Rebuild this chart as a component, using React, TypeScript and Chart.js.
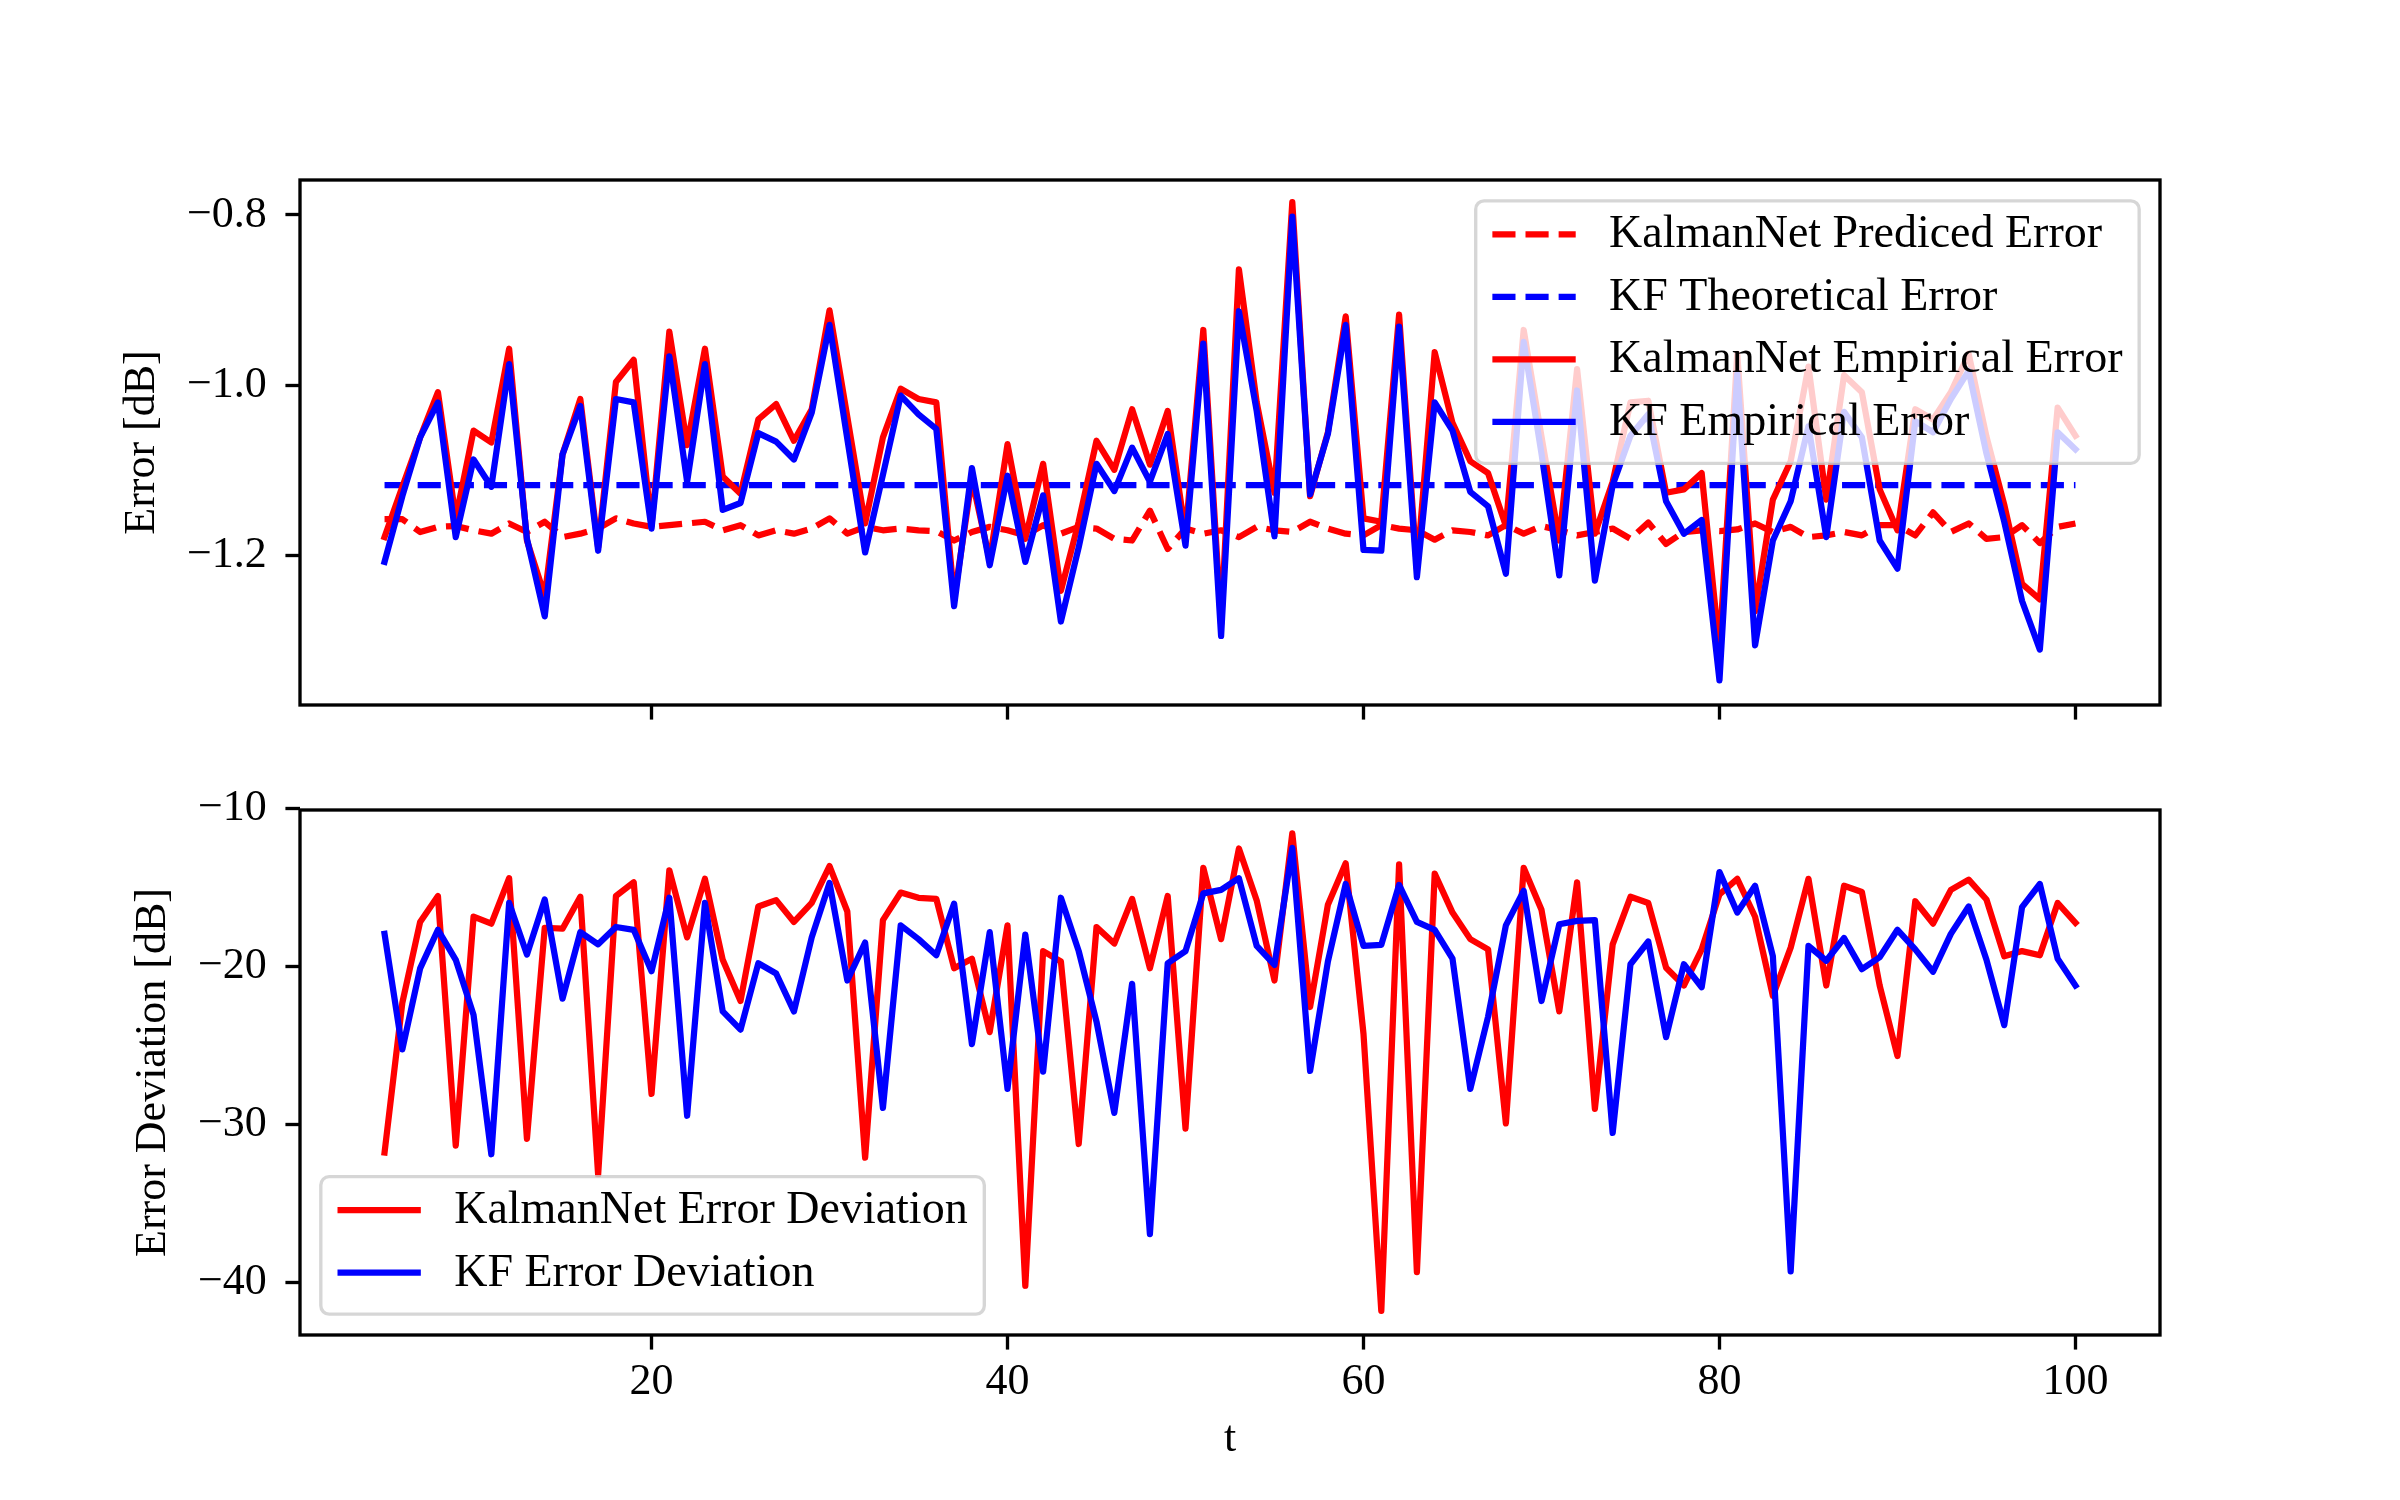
import React, { useEffect, useRef } from 'react';
import { Chart, registerables } from 'chart.js';

Chart.register(...registerables);

// ---------- data ----------
const T = [
  5, 6, 7, 8, 9, 10, 11, 12, 13, 14, 15, 16, 17, 18, 19, 20, 21, 22, 23, 24,
  25, 26, 27, 28, 29, 30, 31, 32, 33, 34, 35, 36, 37, 38, 39, 40, 41, 42, 43, 44,
  45, 46, 47, 48, 49, 50, 51, 52, 53, 54, 55, 56, 57, 58, 59, 60, 61, 62, 63, 64,
  65, 66, 67, 68, 69, 70, 71, 72, 73, 74, 75, 76, 77, 78, 79, 80, 81, 82, 83, 84,
  85, 86, 87, 88, 89, 90, 91, 92, 93, 94, 95, 96, 97, 98, 99, 100,
];

const KALMANNET_PREDICTED_DB = [
  -1.157, -1.157, -1.172, -1.166, -1.165, -1.170, -1.174, -1.162, -1.172, -1.160,
  -1.178, -1.174, -1.168, -1.156, -1.162, -1.166, -1.164, -1.162, -1.160, -1.170,
  -1.164, -1.176, -1.170, -1.174, -1.168, -1.156, -1.174, -1.166, -1.170, -1.168,
  -1.170, -1.171, -1.182, -1.172, -1.166, -1.170, -1.176, -1.164, -1.174, -1.166,
  -1.168, -1.180, -1.182, -1.147, -1.192, -1.168, -1.174, -1.170, -1.178, -1.166,
  -1.170, -1.172, -1.160, -1.168, -1.174, -1.176, -1.164, -1.168, -1.170, -1.181,
  -1.170, -1.172, -1.176, -1.164, -1.174, -1.165, -1.170, -1.176, -1.172, -1.168,
  -1.180, -1.161, -1.186, -1.172, -1.170, -1.171, -1.169, -1.162, -1.172, -1.166,
  -1.178, -1.176, -1.172, -1.176, -1.164, -1.164, -1.176, -1.149, -1.172, -1.162,
  -1.180, -1.178, -1.164, -1.185, -1.166, -1.162,
];

const KF_THEORETICAL_DB = -1.117;

const KALMANNET_EMPIRICAL_DB = [
  -1.178, -1.119, -1.061, -1.008, -1.156, -1.053, -1.067, -0.957, -1.182, -1.247,
  -1.081, -1.016, -1.190, -0.996, -0.970, -1.165, -0.937, -1.070, -0.957, -1.107,
  -1.127, -1.040, -1.022, -1.065, -1.028, -0.912, -1.037, -1.162, -1.061, -1.004,
  -1.016, -1.020, -1.250, -1.110, -1.205, -1.069, -1.180, -1.092, -1.241, -1.160,
  -1.065, -1.099, -1.028, -1.093, -1.030, -1.175, -0.935, -1.280, -0.864, -1.020,
  -1.126, -0.785, -1.130, -1.055, -0.919, -1.156, -1.160, -0.917, -1.215, -0.961,
  -1.044, -1.089, -1.103, -1.165, -0.935, -1.060, -1.182, -0.981, -1.174, -1.113,
  -1.020, -1.018, -1.126, -1.122, -1.103, -1.310, -0.963, -1.265, -1.134, -1.089,
  -0.978, -1.134, -0.988, -1.008, -1.122, -1.170, -1.028, -1.040, -1.008, -0.963,
  -1.060, -1.140, -1.233, -1.251, -1.026, -1.059,
];

const KF_EMPIRICAL_DB = [
  -1.207, -1.130, -1.061, -1.020, -1.178, -1.087, -1.119, -0.975, -1.180, -1.271,
  -1.081, -1.024, -1.194, -1.016, -1.020, -1.168, -0.966, -1.113, -0.975, -1.146,
  -1.138, -1.056, -1.066, -1.087, -1.032, -0.929, -1.063, -1.196, -1.105, -1.012,
  -1.034, -1.051, -1.259, -1.097, -1.211, -1.106, -1.207, -1.129, -1.277, -1.190,
  -1.092, -1.124, -1.073, -1.113, -1.057, -1.188, -0.951, -1.294, -0.913, -1.030,
  -1.177, -0.802, -1.128, -1.057, -0.929, -1.193, -1.194, -0.931, -1.225, -1.020,
  -1.053, -1.125, -1.142, -1.221, -0.949, -1.080, -1.223, -1.006, -1.229, -1.117,
  -1.059, -1.034, -1.136, -1.174, -1.158, -1.346, -0.987, -1.305, -1.182, -1.136,
  -1.048, -1.178, -1.031, -1.061, -1.182, -1.215, -1.042, -1.055, -1.016, -0.983,
  -1.080, -1.160, -1.253, -1.310, -1.055, -1.075,
];

const KALMANNET_DEVIATION_DB = [
  -31.79, -22.30, -17.18, -15.54, -31.35, -16.85, -17.29, -14.41, -30.92, -17.55,
  -17.61, -15.59, -33.20, -15.54, -14.67, -28.08, -13.91, -18.16, -14.45, -19.58,
  -22.19, -16.20, -15.80, -17.18, -15.98, -13.64, -16.52, -32.12, -17.07, -15.32,
  -15.65, -15.72, -20.12, -19.51, -24.16, -17.40, -40.23, -19.03, -19.69, -31.25,
  -17.51, -18.55, -15.72, -20.12, -15.54, -30.27, -13.75, -18.27, -12.53, -15.82,
  -20.89, -11.57, -22.57, -16.09, -13.47, -24.27, -41.82, -13.54, -39.36, -14.12,
  -16.59, -18.27, -18.92, -29.94, -13.75, -16.41, -22.85, -14.67, -29.02, -18.60,
  -15.59, -15.98, -20.08, -21.21, -18.92, -15.43, -14.45, -16.85, -21.87, -18.81,
  -14.45, -21.21, -14.89, -15.28, -21.21, -25.68, -15.87, -17.29, -15.15, -14.50,
  -15.76, -19.36, -19.03, -19.29, -15.98, -17.24,
];

const KF_DEVIATION_DB = [
  -17.94, -25.25, -20.12, -17.68, -19.58, -23.07, -31.90, -15.98, -19.25, -15.76,
  -22.04, -17.83, -18.60, -17.50, -17.68, -20.30, -15.65, -29.46, -15.98, -22.85,
  -24.00, -19.80, -20.45, -22.85, -18.16, -14.72, -20.89, -18.49, -28.96, -17.40,
  -18.27, -19.29, -16.02, -24.92, -17.83, -27.76, -17.99, -26.67, -15.65, -19.03,
  -23.50, -29.28, -21.10, -36.96, -19.80, -19.03, -15.37, -15.15, -14.41, -18.70,
  -19.90, -12.49, -26.62, -19.69, -14.78, -18.70, -18.64, -14.84, -17.18, -17.68,
  -19.51, -27.76, -23.18, -17.40, -15.21, -22.19, -17.33, -17.11, -17.07, -30.55,
  -19.86, -18.42, -24.48, -19.86, -21.32, -14.02, -16.59, -14.89, -19.36, -39.32,
  -18.70, -19.64, -18.20, -20.17, -19.42, -17.68, -18.92, -20.34, -17.94, -16.20,
  -19.58, -23.72, -16.24, -14.78, -19.51, -21.21,
];

const X_TICKS = [20, 40, 60, 80, 100];
const TOP_Y_TICKS = [-1.2, -1.0, -0.8];
const BOTTOM_Y_TICKS = [-40, -30, -20, -10];

// ---------- geometry / style ----------
const W = 2400;
const TOP_CANVAS_H = 760;
const BOTTOM_CANVAS_H = 740;
const PT = 300 / 72;
const FS = 10 * PT; // matplotlib font size in px
const FONT_PX = 44;
const LEGEND_FONT_PX = 46;
const FONT_FAMILY = '"Liberation Serif", "DejaVu Serif", serif';
const LW = 1.5 * PT;
const FRAME_W = 0.8 * PT;
const TICK_LEN = 3.5 * PT;
const TICK_PAD = 3.5 * PT;
const DASH = [3.7 * 1.5 * PT, 1.6 * 1.5 * PT];
const AX_LEFT = 300;
const AX_RIGHT = 2160;
const RED = '#ff0000';
const BLUE = '#0000ff';

const pts = (vals: number[]) => T.map((t, i) => ({ x: t, y: vals[i] }));

const fmtMinus = (s: string) => s.replace('-', '\u2212');

const framePlugin = {
  id: 'mplFrameLegend',
  afterDatasetsDraw(chart: any, _args: any, opts: any) {
    const ctx = chart.ctx;
    const a = chart.chartArea;
    ctx.save();
    ctx.strokeStyle = '#000';
    ctx.lineWidth = FRAME_W;
    ctx.setLineDash([]);
    ctx.strokeRect(a.left, a.top, a.right - a.left, a.bottom - a.top);
    ctx.restore();

    const loc = opts && opts.loc;
    if (!loc) return;
    const items = chart.data.datasets.map((d: any) => ({
      label: d.label,
      color: d.borderColor,
      dash: d.borderDash || [],
    }));
    ctx.save();
    ctx.font = `${LEGEND_FONT_PX}px ${FONT_FAMILY}`;
    const textW = Math.max(...items.map((it: any) => ctx.measureText(it.label).width));
    const pad = 0.4 * FS;
    const hl = 2 * FS;
    const htp = 0.8 * FS;
    const ls = 0.5 * FS;
    const rowH = FS;
    const bap = 0.5 * FS;
    const w = 2 * pad + hl + htp + textW;
    const h = 2 * pad + items.length * rowH + (items.length - 1) * ls;
    const x = loc === 'upper right' ? a.right - bap - w : a.left + bap;
    const y = loc === 'upper right' ? a.top + bap : a.bottom - bap - h;
    ctx.beginPath();
    if (ctx.roundRect) ctx.roundRect(x, y, w, h, 0.2 * FS);
    else ctx.rect(x, y, w, h);
    ctx.fillStyle = 'rgba(255,255,255,0.8)';
    ctx.fill();
    ctx.strokeStyle = 'rgba(204,204,204,0.8)';
    ctx.lineWidth = FRAME_W;
    ctx.stroke();
    items.forEach((it: any, i: number) => {
      const cy = y + pad + i * (rowH + ls) + rowH / 2 - 4;
      ctx.beginPath();
      ctx.setLineDash(it.dash);
      ctx.lineDashOffset = 0;
      ctx.lineCap = 'butt';
      ctx.strokeStyle = it.color;
      ctx.lineWidth = LW;
      ctx.moveTo(x + pad, cy);
      ctx.lineTo(x + pad + hl, cy);
      ctx.stroke();
      ctx.setLineDash([]);
      ctx.fillStyle = '#000';
      ctx.textAlign = 'left';
      ctx.textBaseline = 'middle';
      ctx.fillText(it.label, x + pad + hl + htp, cy + 1);
    });
    ctx.restore();
  },
};

const lineDs = (label: string, data: number[], color: string, dashed: boolean, order: number) => ({
  label,
  data: pts(data),
  borderColor: color,
  backgroundColor: color,
  borderWidth: LW,
  borderDash: dashed ? DASH : [],
  borderCapStyle: dashed ? 'butt' : 'square',
  borderJoinStyle: 'round',
  pointRadius: 0,
  pointHoverRadius: 0,
  tension: 0,
  fill: false,
  order,
});

const tickFont = { family: FONT_FAMILY, size: FONT_PX };

const makeOptions = (p: {
  yMin: number;
  yMax: number;
  yTicks: number[];
  yDecimals: number;
  yTitle: string;
  yTitlePad: number;
  showXLabels: boolean;
  xAxisH: number;
  padTop: number;
  legendLoc: string;
}) => ({
  responsive: false,
  maintainAspectRatio: false,
  animation: false,
  devicePixelRatio: 1,
  events: [],
  layout: { padding: { left: 0, right: W - AX_RIGHT, top: p.padTop, bottom: 0 } },
  plugins: {
    legend: { display: false },
    tooltip: { enabled: false },
    title: { display: false },
    mplFrameLegend: { loc: p.legendLoc },
  },
  scales: {
    x: {
      type: 'linear',
      min: 0.25,
      max: 104.75,
      afterBuildTicks: (ax: any) => {
        ax.ticks = X_TICKS.map((v) => ({ value: v }));
      },
      afterFit: (ax: any) => {
        ax.height = p.xAxisH;
      },
      border: { display: false },
      grid: {
        display: true,
        drawOnChartArea: false,
        drawTicks: true,
        tickLength: TICK_LEN,
        tickWidth: FRAME_W,
        tickColor: '#000',
      },
      ticks: {
        autoSkip: false,
        maxRotation: 0,
        minRotation: 0,
        padding: TICK_PAD - 8,
        color: p.showXLabels ? '#000' : 'rgba(0,0,0,0)',
        font: tickFont,
        callback: (v: any) => String(v),
      },
      title: p.showXLabels
        ? { display: true, text: 't', color: '#000', font: tickFont, padding: { top: 0, bottom: 34 } }
        : { display: false },
    },
    y: {
      type: 'linear',
      min: p.yMin,
      max: p.yMax,
      afterBuildTicks: (ax: any) => {
        ax.ticks = p.yTicks.map((v) => ({ value: v }));
      },
      afterFit: (ax: any) => {
        ax.width = AX_LEFT;
      },
      border: { display: false },
      grid: {
        display: true,
        drawOnChartArea: false,
        drawTicks: true,
        tickLength: TICK_LEN,
        tickWidth: FRAME_W,
        tickColor: '#000',
      },
      ticks: {
        autoSkip: false,
        padding: TICK_PAD + 4,
        color: '#000',
        font: tickFont,
        callback: (v: any) => fmtMinus(Number(v).toFixed(p.yDecimals)),
      },
      title: {
        display: true,
        text: p.yTitle,
        color: '#000',
        font: tickFont,
        padding: { top: p.yTitlePad, bottom: 0 },
      },
    },
  },
});

export default function App() {
  const topRef = useRef<HTMLCanvasElement | null>(null);
  const botRef = useRef<HTMLCanvasElement | null>(null);

  useEffect(() => {
    document.body.style.margin = '0';
    const topChart = new Chart(topRef.current as HTMLCanvasElement, {
      type: 'line',
      data: {
        datasets: [
          lineDs('KalmanNet Prediced Error', KALMANNET_PREDICTED_DB, RED, true, 4),
          lineDs('KF Theoretical Error', T.map(() => KF_THEORETICAL_DB), BLUE, true, 3),
          lineDs('KalmanNet Empirical Error', KALMANNET_EMPIRICAL_DB, RED, false, 2),
          lineDs('KF Empirical Error', KF_EMPIRICAL_DB, BLUE, false, 1),
        ],
      } as any,
      options: makeOptions({
        yMin: -1.375,
        yMax: -0.759,
        yTicks: TOP_Y_TICKS,
        yDecimals: 1,
        yTitle: 'Error [dB]',
        yTitlePad: 116,
        showXLabels: false,
        xAxisH: TOP_CANVAS_H - 705,
        padTop: 180,
        legendLoc: 'upper right',
      }) as any,
      plugins: [framePlugin],
    });

    const botChart = new Chart(botRef.current as HTMLCanvasElement, {
      type: 'line',
      data: {
        datasets: [
          lineDs('KalmanNet Error Deviation', KALMANNET_DEVIATION_DB, RED, false, 2),
          lineDs('KF Error Deviation', KF_DEVIATION_DB, BLUE, false, 1),
        ],
      } as any,
      options: makeOptions({
        yMin: -43.35,
        yMax: -10.09,
        yTicks: BOTTOM_Y_TICKS,
        yDecimals: 0,
        yTitle: 'Error Deviation [dB]',
        yTitlePad: 127,
        showXLabels: true,
        xAxisH: BOTTOM_CANVAS_H - (1335 - TOP_CANVAS_H),
        padTop: 810 - TOP_CANVAS_H,
        legendLoc: 'lower left',
      }) as any,
      plugins: [framePlugin],
    });

    return () => {
      topChart.destroy();
      botChart.destroy();
    };
  }, []);

  return (
    <div
      style={{
        position: 'absolute',
        left: 0,
        top: 0,
        width: W,
        height: TOP_CANVAS_H + BOTTOM_CANVAS_H,
        background: '#ffffff',
      }}
    >
      <canvas
        ref={topRef}
        width={W}
        height={TOP_CANVAS_H}
        style={{ display: 'block', width: W, height: TOP_CANVAS_H }}
      />
      <canvas
        ref={botRef}
        width={W}
        height={BOTTOM_CANVAS_H}
        style={{ display: 'block', width: W, height: BOTTOM_CANVAS_H }}
      />
    </div>
  );
}
